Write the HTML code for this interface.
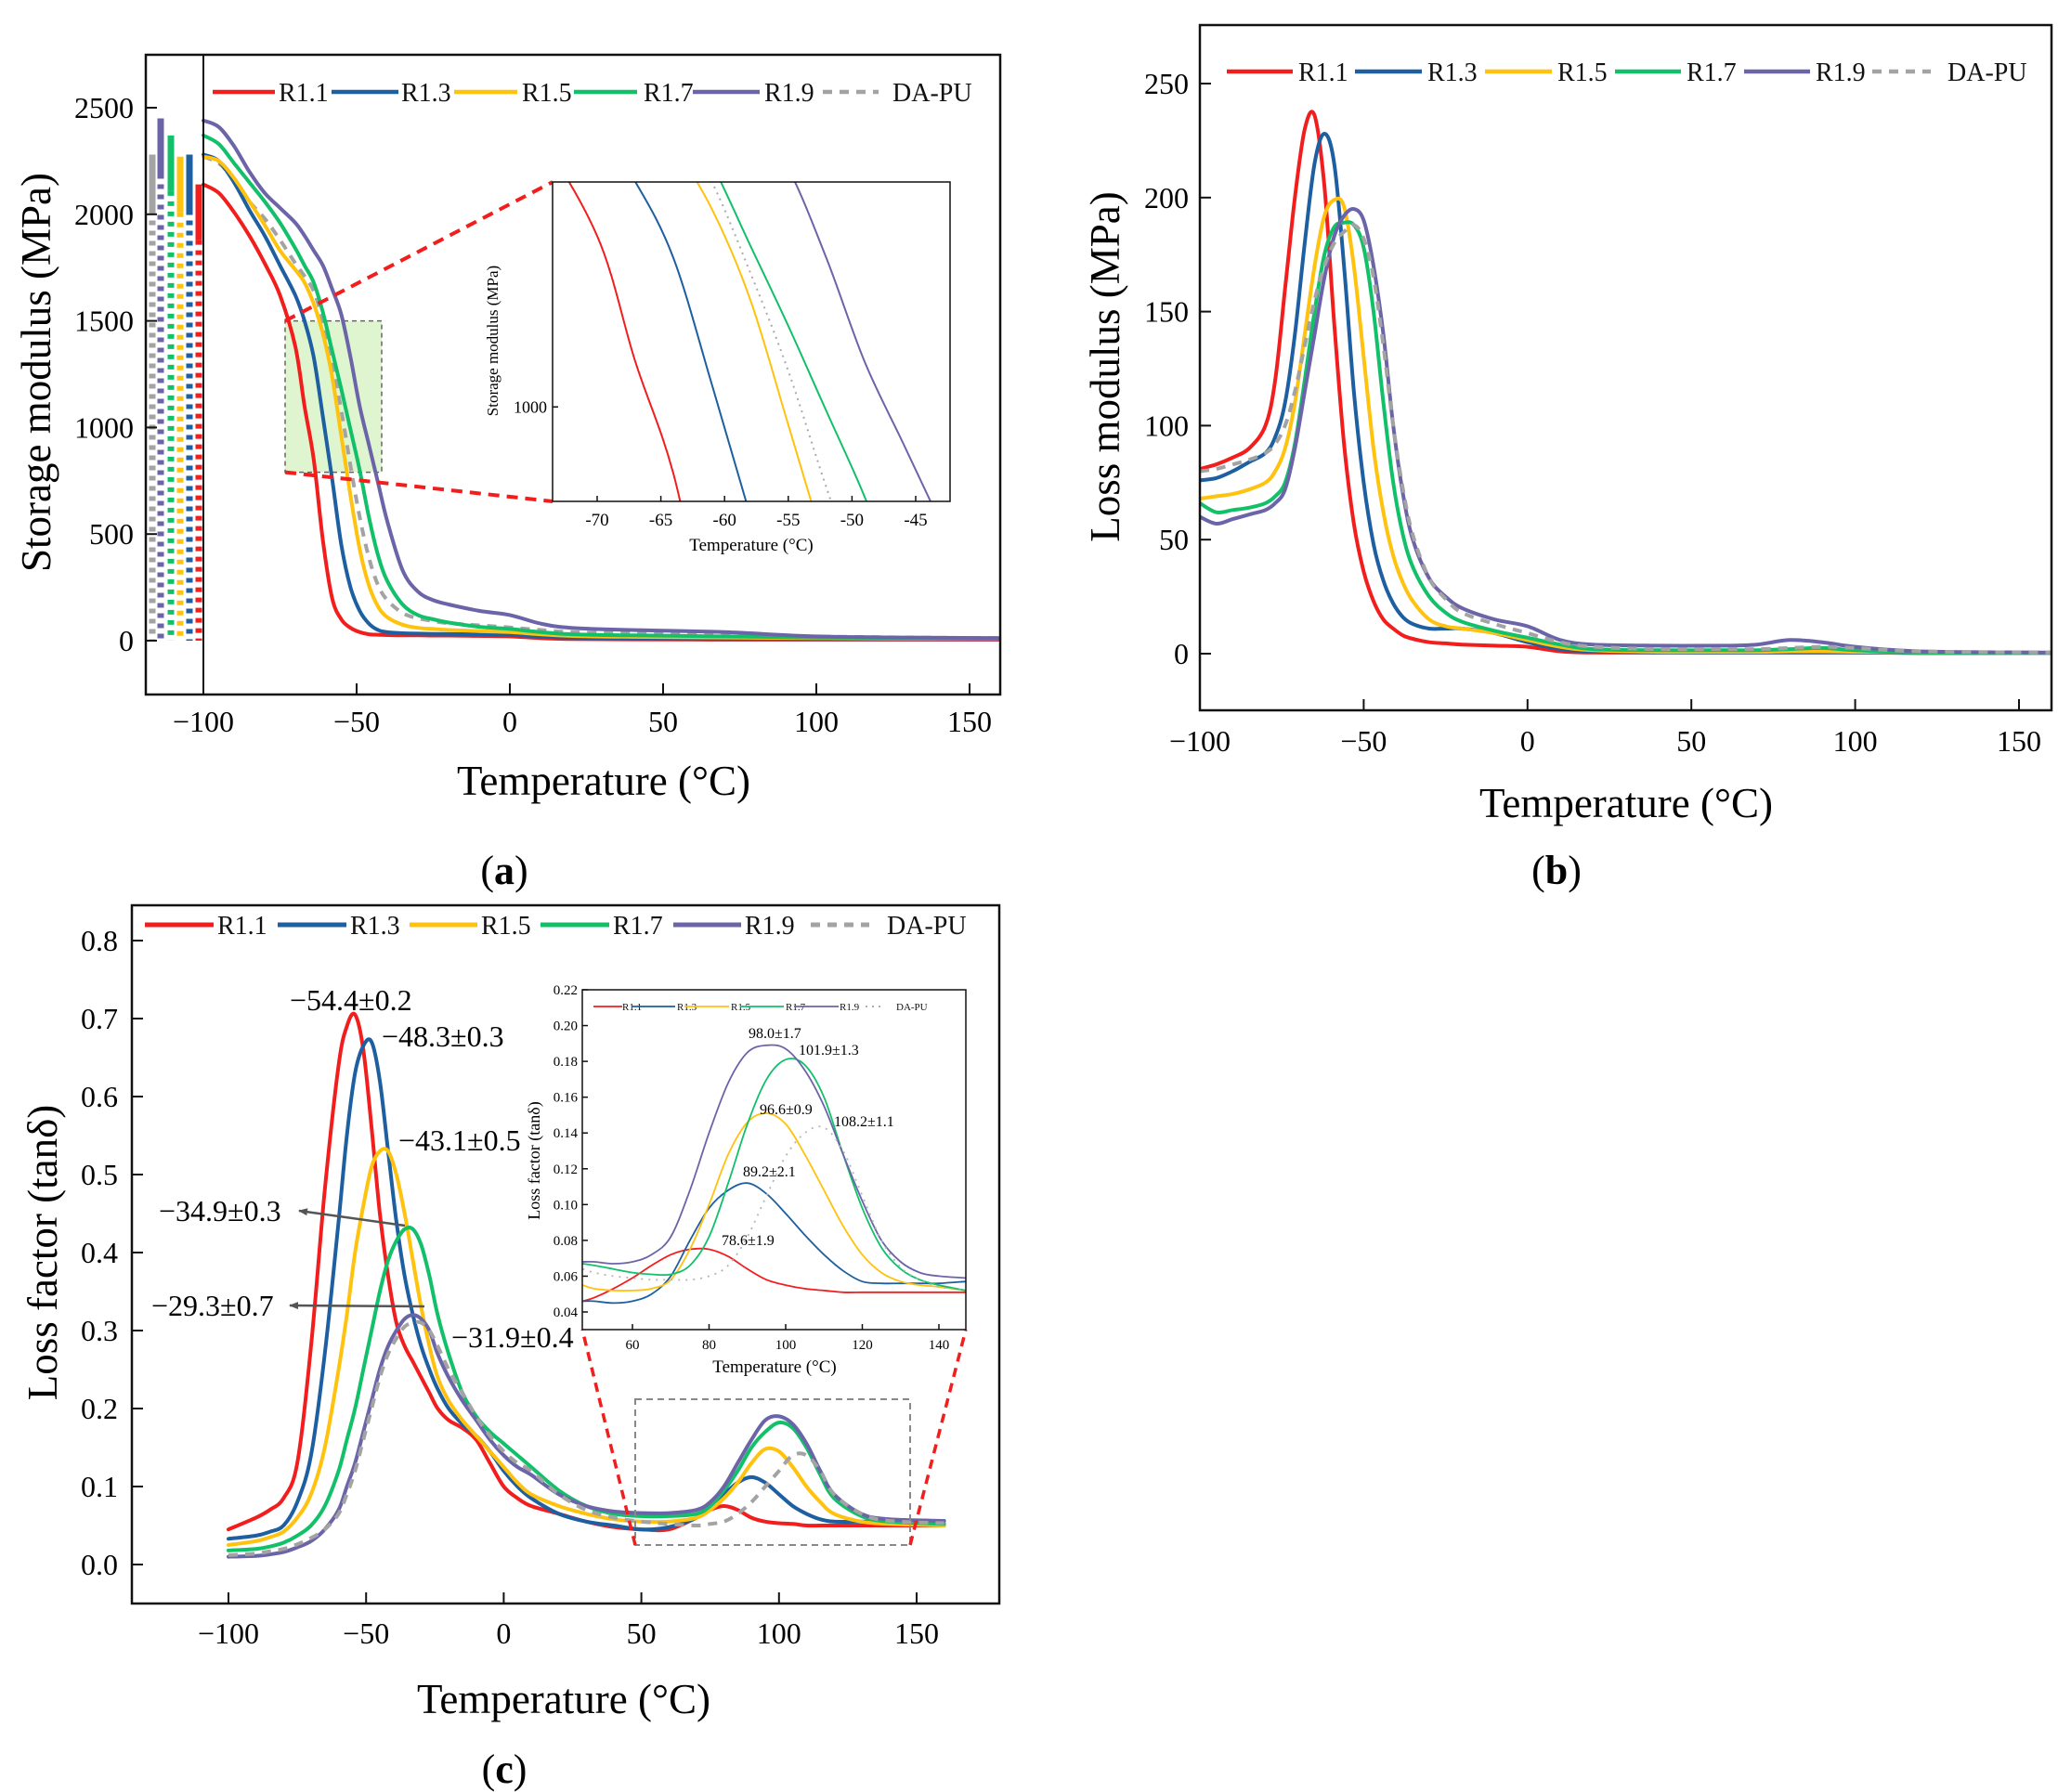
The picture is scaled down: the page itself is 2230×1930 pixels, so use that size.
<!DOCTYPE html>
<html><head><meta charset="utf-8">
<style>
html,body{margin:0;padding:0;background:#fff;}
svg{display:block;font-family:"Liberation Serif",serif;}
</style></head>
<body>
<svg id="fig" width="2230" height="1930" viewBox="0 0 2230 1930" xmlns="http://www.w3.org/2000/svg">
<defs>
<clipPath id="clipA"><rect x="157" y="59" width="920" height="689"/></clipPath>
<clipPath id="clipAI"><rect x="595" y="196" width="428" height="344"/></clipPath>
<clipPath id="clipB"><rect x="1292" y="27" width="917" height="738"/></clipPath>
<clipPath id="clipC"><rect x="142" y="975" width="934" height="752"/></clipPath>
<clipPath id="clipCI"><rect x="627" y="1066" width="413" height="366"/></clipPath>
<marker id="arr" markerWidth="10" markerHeight="8" refX="9" refY="4" orient="auto" markerUnits="userSpaceOnUse"><path d="M0,0 L10,4 L0,8 Z" fill="#555"/></marker>
</defs>
</svg>
<script>
// ---------- DATA ----------
const seriesNames = ["R1.1","R1.3","R1.5","R1.7","R1.9","DA-PU"];
const seriesColors = ["#f21d1d","#1d5fa0","#ffc20e","#12c06a","#6b64a8","#a3a3a3"];

// Panel (a) storage modulus
const tempsA = [-100,-95,-90,-85,-80,-75,-70,-67,-64,-61,-58,-55,-52,-49,-46,-43,-40,-35,-30,-25,-20,-10,0,10,20,40,70,100,130,160];
const storR11 = [2140,2100,2010,1900,1770,1620,1380,1100,850,470,200,100,60,40,30,28,26,25,25,24,24,22,20,12,8,6,5,5,5,5];
const storR13 = [2280,2250,2150,2020,1900,1760,1620,1500,1330,1050,760,450,250,140,80,50,40,35,33,32,31,30,28,20,15,10,8,8,8,8];
const storR15 = [2270,2250,2170,2060,1950,1830,1740,1680,1580,1440,1240,960,680,430,260,160,110,75,60,55,50,45,40,30,22,18,15,12,10,10];
const storR17 = [2370,2330,2240,2150,2060,1960,1840,1760,1680,1540,1360,1180,990,800,580,400,280,170,120,100,85,65,55,40,30,25,20,15,12,10];
const storR19 = [2440,2410,2320,2200,2100,2030,1960,1900,1830,1760,1650,1530,1330,1100,920,740,560,330,230,190,170,140,120,80,60,50,40,20,15,12];
const storDAPU = [2270,2240,2160,2060,1980,1880,1770,1710,1640,1500,1300,1080,820,580,390,260,190,130,105,92,82,72,62,50,40,35,30,20,15,12];
const barTops = [2280,2450,2370,2270,2280,2140];
const ticksAY = [0,500,1000,1500,2000,2500];
const ticksX = [-100,-50,0,50,100,150];
const ticksAIX = [-70,-65,-60,-55,-50,-45];

// Panel (b) loss modulus
const tempsB = [-100,-95,-90,-85,-80,-77,-74,-71,-68,-65,-62,-59,-56,-53,-50,-47,-44,-41,-38,-35,-30,-25,-20,-10,0,10,20,40,60,70,80,90,100,120,160];
const lossR11 = [81,83,86,90,100,120,160,200,230,236,205,145,92,57,36,23,15,11,8,6.5,5,4.5,4,3.5,3,1,0.5,0.5,0.5,0.5,0.5,0.5,0.5,0.3,0.3];
const lossR13 = [76,77,80,84,88,95,110,140,180,215,228,215,170,115,75,48,32,22,16,13,11,11,11,9,5,2,1,0.5,0.5,0.5,0.5,0.5,0.5,0.3,0.3];
const lossR15 = [68,69,70,72,75,80,90,110,140,170,192,199,196,170,130,90,62,43,31,23,15,12,11,9,6,3,1.5,0.8,0.8,0.8,1,1,0.8,0.5,0.3];
const lossR17 = [66,62,63,64,66,69,75,92,120,150,175,187,189,188,178,150,110,75,52,38,25,18,14,10,7,4,2,1.5,1.5,1.5,2,2.5,1.5,0.5,0.3];
const lossR19 = [60,57,59,61,63,66,72,90,115,140,165,183,192,195,190,170,140,100,70,50,33,25,20,15,12,6,4,3.5,3.5,4,6,5,3,1,0.5];
const lossDAPU = [80,81,83,85,88,92,100,115,135,155,170,180,185,188,182,165,135,100,72,52,33,24,18,13,9,5,3,2,2,2,2.5,3,2.5,1,0.5];
const ticksBY = [0,50,100,150,200,250];

// Panel (c) loss factor
const tempsC = [-100,-90,-85,-80,-75,-70,-65,-60,-57,-54,-51,-48,-45,-42,-39,-36,-33,-30,-27,-24,-20,-15,-10,-5,0,5,10,20,30,40,50,60,70,75,80,85,90,95,100,105,110,115,120,130,140,160];
const tanR11 = [0.045,0.06,0.07,0.085,0.13,0.28,0.48,0.64,0.69,0.705,0.66,0.56,0.45,0.37,0.31,0.28,0.26,0.24,0.22,0.2,0.185,0.175,0.16,0.13,0.1,0.085,0.075,0.065,0.055,0.048,0.045,0.045,0.06,0.07,0.075,0.07,0.06,0.055,0.053,0.052,0.05,0.05,0.05,0.05,0.05,0.05];
const tanR13 = [0.033,0.037,0.042,0.05,0.08,0.14,0.27,0.44,0.55,0.63,0.665,0.67,0.62,0.53,0.44,0.37,0.32,0.28,0.25,0.225,0.2,0.18,0.165,0.145,0.12,0.1,0.085,0.065,0.055,0.05,0.045,0.048,0.06,0.075,0.09,0.105,0.112,0.105,0.09,0.075,0.065,0.058,0.055,0.055,0.056,0.056];
const tanR15 = [0.025,0.03,0.035,0.042,0.06,0.09,0.15,0.25,0.32,0.4,0.46,0.51,0.53,0.53,0.5,0.45,0.39,0.33,0.28,0.24,0.21,0.185,0.165,0.145,0.125,0.105,0.09,0.075,0.065,0.058,0.055,0.055,0.06,0.07,0.085,0.105,0.13,0.148,0.145,0.125,0.1,0.08,0.065,0.055,0.052,0.05];
const tanR17 = [0.018,0.02,0.023,0.028,0.037,0.05,0.075,0.12,0.16,0.2,0.25,0.3,0.35,0.39,0.415,0.43,0.43,0.41,0.37,0.32,0.27,0.22,0.19,0.17,0.155,0.14,0.125,0.095,0.075,0.065,0.062,0.062,0.065,0.075,0.095,0.12,0.15,0.17,0.182,0.175,0.15,0.115,0.085,0.062,0.055,0.052];
const tanR19 = [0.01,0.011,0.013,0.016,0.022,0.03,0.045,0.07,0.1,0.13,0.17,0.21,0.25,0.28,0.3,0.315,0.32,0.315,0.3,0.27,0.24,0.21,0.185,0.16,0.14,0.125,0.115,0.09,0.075,0.068,0.066,0.066,0.07,0.08,0.1,0.13,0.16,0.185,0.19,0.18,0.155,0.12,0.09,0.065,0.058,0.056];
const tanDAPU = [0.012,0.014,0.017,0.02,0.026,0.034,0.045,0.065,0.09,0.12,0.16,0.2,0.24,0.27,0.29,0.305,0.31,0.31,0.3,0.28,0.25,0.22,0.19,0.165,0.145,0.13,0.12,0.09,0.07,0.06,0.055,0.052,0.05,0.052,0.055,0.065,0.08,0.1,0.12,0.14,0.14,0.12,0.09,0.065,0.056,0.053];
const ticksCY = [0,0.1,0.2,0.3,0.4,0.5,0.6,0.7,0.8];

// Panel (c) inset
const tempsCI = [47,50,55,60,65,70,75,80,85,90,95,100,105,110,115,120,125,130,135,140,147];
const insR11 = [.046,.048,.053,.059,.066,.072,.075,.075,.071,.064,.058,.055,.053,.052,.051,.051,.051,.051,.051,.051,.051];
const insR13 = [.046,.046,.045,.046,.050,.060,.080,.098,.108,.112,.106,.095,.083,.072,.063,.057,.056,.056,.056,.056,.057];
const insR15 = [.055,.053,.052,.052,.053,.058,.075,.100,.128,.146,.151,.145,.128,.108,.088,.072,.062,.057,.055,.054,.052];
const insR17 = [.067,.066,.064,.062,.061,.061,.066,.082,.112,.145,.170,.181,.178,.160,.128,.098,.076,.064,.058,.055,.052];
const insR19 = [.068,.068,.067,.068,.072,.082,.108,.140,.168,.185,.189,.187,.175,.155,.128,.102,.080,.068,.062,.060,.059];
const insDAPU = [.064,.062,.060,.059,.058,.058,.058,.060,.066,.082,.105,.127,.140,.143,.130,.105,.080,.065,.058,.054,.052];
const ticksCIX = [60,80,100,120,140];
const ticksCIY = [0.04,0.06,0.08,0.10,0.12,0.14,0.16,0.18,0.20,0.22];
const peakLabelsC = ["−54.4±0.2","−48.3±0.3","−43.1±0.5","−34.9±0.3","−29.3±0.7","−31.9±0.4"];
const peakLabelsCI = ["98.0±1.7","101.9±1.3","96.6±0.9","108.2±1.1","89.2±2.1","78.6±1.9"];

// ---------- HELPERS ----------
const NS = "http://www.w3.org/2000/svg";
const svg = document.getElementById("fig");
function mk(tag, attrs, parent){
  const e = document.createElementNS(NS, tag);
  for (const k in attrs) e.setAttribute(k, attrs[k]);
  (parent||svg).appendChild(e);
  return e;
}
function txt(str, attrs, parent){ const t = mk("text", attrs, parent); t.textContent = str; return t; }
function lin(d0,d1,r0,r1){ return v => r0 + (v-d0)*(r1-r0)/(d1-d0); }
function smoothPath(pts){
  let d = "M"+pts[0][0].toFixed(1)+","+pts[0][1].toFixed(1);
  for (let i=0;i<pts.length-1;i++){
    const p0=pts[Math.max(0,i-1)], p1=pts[i], p2=pts[i+1], p3=pts[Math.min(pts.length-1,i+2)];
    const c1x=p1[0]+(p2[0]-p0[0])/6, c1y=p1[1]+(p2[1]-p0[1])/6;
    const c2x=p2[0]-(p3[0]-p1[0])/6, c2y=p2[1]-(p3[1]-p1[1])/6;
    d += " C"+c1x.toFixed(1)+","+c1y.toFixed(1)+" "+c2x.toFixed(1)+","+c2y.toFixed(1)+" "+p2[0].toFixed(1)+","+p2[1].toFixed(1);
  }
  return d;
}
function drawSeries(g, temps, vals, sx, sy, idx, width, dashStyle){
  const pts = temps.map((t,i)=>[sx(t), sy(vals[i])]);
  const p = mk("path", {d: smoothPath(pts), fill:"none", stroke: seriesColors[idx], "stroke-width": width, "stroke-linejoin":"round", "stroke-linecap": idx===5?"butt":"round"}, g);
  if (idx===5) p.setAttribute("stroke-dasharray", dashStyle);
  
  
  return p;
}
function legend(g, y, lineX, textX, fs, lw, dash){
  for (let i=0;i<6;i++){
    const l = mk("line", {x1: lineX[i][0], x2: lineX[i][1], y1: y, y2: y, stroke: seriesColors[i], "stroke-width": lw}, g);
    if (i===5) l.setAttribute("stroke-dasharray", dash);
    
    
    const t = txt(seriesNames[i], {x: textX[i], y: y + fs*0.35, "font-size": fs, fill:"#111"}, g);
    
    
  }
}
function frame(x,y,w,h,sw,name){
  const r = mk("rect",{x:x,y:y,width:w,height:h,fill:"none",stroke:"#111","stroke-width":sw});
  
  
}

// ---------- PANEL A ----------
(function(){
  const sx = lin(-100,150,219,1044), sy = lin(0,2500,690,116);
  const g = mk("g",{});  
  const barX = [164,173,184,194,204,214];
  const barCol = ["#a3a3a3","#6b64a8","#12c06a","#ffc20e","#1d5fa0","#f21d1d"];
  barTops.forEach((v,i)=>{
    const top = sy(v);
    const b1 = mk("line",{x1:barX[i],x2:barX[i],y1:top,y2:top+60,stroke:barCol[i],"stroke-width":7},g);
     
    const b2 = mk("line",{x1:barX[i],x2:barX[i],y1:top+60,y2:690,stroke:barCol[i],"stroke-width":7,"stroke-dasharray":"5,6"},g);
     
  });
  const zb = mk("rect",{x:307,y:sy(1500),width:104,height:sy(790)-sy(1500),fill:"#dff5d0",stroke:"#666","stroke-width":1.5,"stroke-dasharray":"5,4"},g);
   
  const cg = mk("g",{"clip-path":"url(#clipA)"},g);
  const sets = [storR11,storR13,storR15,storR17,storR19,storDAPU];
  [5,0,1,2,3,4].forEach(i=>drawSeries(cg,tempsA,sets[i],sx,sy,i,4,"10,8"));
  mk("line",{x1:219,x2:219,y1:59,y2:748,stroke:"#111","stroke-width":2},g);
  frame(157,59,920,689,2.5,'plot-frame-a');
  ticksX.forEach(t=>{
    mk("line",{x1:sx(t),x2:sx(t),y1:748,y2:736,stroke:"#111","stroke-width":2},g);
    const l = txt(String(t).replace('-','−'),{x:sx(t),y:788,"font-size":32,"text-anchor":"middle"},g);
     
  });
  ticksAY.forEach(t=>{
    mk("line",{x1:157,x2:169,y1:sy(t),y2:sy(t),stroke:"#111","stroke-width":2},g);
    const l = txt(String(t),{x:144,y:sy(t)+11,"font-size":32,"text-anchor":"end"},g);
     
  });
  const yt = txt("Storage modulus (MPa)",{x:0,y:0,"font-size":45,"text-anchor":"middle",transform:"translate(54,401) rotate(-90)"},g);
   
  const xt = txt("Temperature (°C)",{x:650,y:856,"font-size":45,"text-anchor":"middle"},g);
   
  legend(g, 99, [[229,296],[357,429],[489,557],[618,686],[746,818],[886,946]], [300,432,562,693,823,961], 28, 4.5, "10,8");
  [[307,sy(1500),595,196],[307,sy(790),595,540]].forEach(c=>{
    const l = mk("line",{x1:c[0],y1:c[1],x2:c[2],y2:c[3],stroke:"#f21d1d","stroke-width":4,"stroke-dasharray":"12,8"},g);
     
  });
  const ix = lin(-70,-45,643,986), iy = lin(790,1500,540,196);
  mk("rect",{x:595,y:196,width:428,height:344,fill:"#fff"},g);
  const ig = mk("g",{"clip-path":"url(#clipAI)"},g);
  [0,1,2,3,4,5].forEach(i=>{
    const p = drawSeries(ig,tempsA,sets[i],ix,iy,i,2,"2,5");
    if(i===5){p.setAttribute("stroke","#aaa");}
  });
  frame(595,196,428,344,1.5,'inset-frame-a');
  ticksAIX.forEach(t=>{
    mk("line",{x1:ix(t),x2:ix(t),y1:540,y2:534,stroke:"#111","stroke-width":1.5},g);
    txt(String(t),{x:ix(t),y:566,"font-size":19,"text-anchor":"middle"},g);
  });
  mk("line",{x1:595,x2:601,y1:iy(1000),y2:iy(1000),stroke:"#111","stroke-width":1.5},g);
  txt("1000",{x:589,y:iy(1000)+6,"font-size":18,"text-anchor":"end"},g);
  txt("Storage modulus (MPa)",{x:0,y:0,"font-size":17,"text-anchor":"middle",transform:"translate(536,367) rotate(-90)"},g);
  txt("Temperature (°C)",{x:809,y:593,"font-size":19,"text-anchor":"middle"},g);
  const lab = txt("",{x:543,y:952,"font-size":44,"text-anchor":"middle"},g);
  lab.innerHTML = '(<tspan font-weight="bold">a</tspan>)';
   
})();

// ---------- PANEL B ----------
(function(){
  const sx = lin(-100,150,1292,2174), sy = lin(0,250,704,90);
  const g = mk("g",{});  
  const cg = mk("g",{"clip-path":"url(#clipB)"},g);
  const sets = [lossR11,lossR13,lossR15,lossR17,lossR19,lossDAPU];
  [0,1,2,3,4,5].forEach(i=>drawSeries(cg,tempsB,sets[i],sx,sy,i,4,"10,8"));
  frame(1292,27,917,738,2.5,'plot-frame-b');
  ticksX.forEach(t=>{
    mk("line",{x1:sx(t),x2:sx(t),y1:765,y2:753,stroke:"#111","stroke-width":2},g);
    const l = txt(String(t).replace('-','−'),{x:sx(t),y:809,"font-size":32,"text-anchor":"middle"},g);
     
  });
  ticksBY.forEach(t=>{
    mk("line",{x1:1292,x2:1304,y1:sy(t),y2:sy(t),stroke:"#111","stroke-width":2},g);
    const l = txt(String(t),{x:1280,y:sy(t)+11,"font-size":32,"text-anchor":"end"},g);
     
  });
  const yt = txt("Loss modulus (MPa)",{x:0,y:0,"font-size":45,"text-anchor":"middle",transform:"translate(1205,395) rotate(-90)"},g);
   
  const xt = txt("Temperature (°C)",{x:1751,y:880,"font-size":45,"text-anchor":"middle"},g);
   
  legend(g, 77, [[1321,1392],[1459,1531],[1599,1671],[1739,1810],[1878,1949],[2016,2079]], [1398,1537,1677,1816,1955,2097], 28, 4.5, "10,8");
  const lab = txt("",{x:1676,y:952,"font-size":44,"text-anchor":"middle"},g);
  lab.innerHTML = '(<tspan font-weight="bold">b</tspan>)';
   
})();

// ---------- PANEL C ----------
(function(){
  const sx = lin(-100,150,246,987), sy = lin(0,0.8,1685,1013);
  const g = mk("g",{});  
  const cg = mk("g",{"clip-path":"url(#clipC)"},g);
  const sets = [tanR11,tanR13,tanR15,tanR17,tanR19,tanDAPU];
  [0,1,2,3,4,5].forEach(i=>drawSeries(cg,tempsC,sets[i],sx,sy,i,4,"10,8"));
  frame(142,975,934,752,2.5,'plot-frame-c');
  const zr = mk("rect",{x:684,y:1507,width:296,height:157,fill:"none",stroke:"#888","stroke-width":2,"stroke-dasharray":"7,5"},g);
   
  [[684,1664,627,1432],[980,1664,1040,1432]].forEach(c=>{
    const l = mk("line",{x1:c[0],y1:c[1],x2:c[2],y2:c[3],stroke:"#f21d1d","stroke-width":3.5,"stroke-dasharray":"10,7"},g);
     
  });
  ticksX.forEach(t=>{
    mk("line",{x1:sx(t),x2:sx(t),y1:1727,y2:1715,stroke:"#111","stroke-width":2},g);
    const l = txt(String(t).replace('-','−'),{x:sx(t),y:1770,"font-size":32,"text-anchor":"middle"},g);
     
  });
  ticksCY.forEach(t=>{
    mk("line",{x1:142,x2:154,y1:sy(t),y2:sy(t),stroke:"#111","stroke-width":2},g);
    const l = txt(t.toFixed(1),{x:127,y:sy(t)+11,"font-size":32,"text-anchor":"end"},g);
     
  });
  const yt = txt("Loss factor (tanδ)",{x:0,y:0,"font-size":45,"text-anchor":"middle",transform:"translate(61,1349) rotate(-90)"},g);
   
  const xt = txt("Temperature (°C)",{x:607,y:1845,"font-size":45,"text-anchor":"middle"},g);
   
  legend(g, 996, [[156,230],[299,373],[441,514],[582,656],[725,798],[873,936]], [234,377,518,660,802,955], 28, 5, "10,8");
  const annPos = [[312,1088],[411,1127],[429,1239],[171,1315],[163,1417],[486,1451]];
  peakLabelsC.forEach((s,i)=>{
    const a = txt(s,{x:annPos[i][0],y:annPos[i][1],"font-size":32},g);
     
  });
  const a1 = mk("line",{x1:436,y1:1320,x2:322,y2:1304,stroke:"#555","stroke-width":2.5,"marker-end":"url(#arr)"},g);
   
  const a2 = mk("line",{x1:457,y1:1407,x2:312,y2:1406,stroke:"#555","stroke-width":2.5,"marker-end":"url(#arr)"},g);
   
  const ix = lin(60,140,681,1011), iy = lin(0.04,0.22,1413,1066);
  mk("rect",{x:627,y:1066,width:413,height:366,fill:"#fff"},g);
  const ig = mk("g",{"clip-path":"url(#clipCI)"},g);
  const isets = [insR11,insR13,insR15,insR17,insR19,insDAPU];
  [0,1,2,3,4,5].forEach(i=>{
    const p = drawSeries(ig,tempsCI,isets[i],ix,iy,i,1.8,"2,6");
    if(i===5){p.setAttribute("stroke","#b5b5b5");}
  });
  frame(627,1066,413,366,1.5,'inset-frame-c');
  ticksCIX.forEach(t=>{
    mk("line",{x1:ix(t),x2:ix(t),y1:1432,y2:1426,stroke:"#111","stroke-width":1.5},g);
    txt(String(t),{x:ix(t),y:1453,"font-size":15,"text-anchor":"middle"},g);
  });
  ticksCIY.forEach(t=>{
    mk("line",{x1:627,x2:633,y1:iy(t),y2:iy(t),stroke:"#111","stroke-width":1.5},g);
    txt(t.toFixed(2),{x:622,y:iy(t)+5,"font-size":15,"text-anchor":"end"},g);
  });
  txt("Loss factor (tanδ)",{x:0,y:0,"font-size":18,"text-anchor":"middle",transform:"translate(581,1250) rotate(-90)"},g);
  txt("Temperature (°C)",{x:834,y:1478,"font-size":19,"text-anchor":"middle"},g);
  const ilg = mk("g",{},g);
   
  legend(ilg, 1084, [[639,670],[680,727],[737,785],[797,844],[855,903],[932,953]], [670,729,787,846,904,965], 11, 1.8, "2,5");
  const ipos = [[806,1118],[860,1136],[818,1200],[898,1213],[800,1267],[777,1341]];
  peakLabelsCI.forEach((s,i)=>{
    const a = txt(s,{x:ipos[i][0],y:ipos[i][1],"font-size":16},g);
     
  });
  const lab = txt("",{x:543,y:1920,"font-size":44,"text-anchor":"middle"},g);
  lab.innerHTML = '(<tspan font-weight="bold">c</tspan>)';
   
})();
</script>
</body></html>
